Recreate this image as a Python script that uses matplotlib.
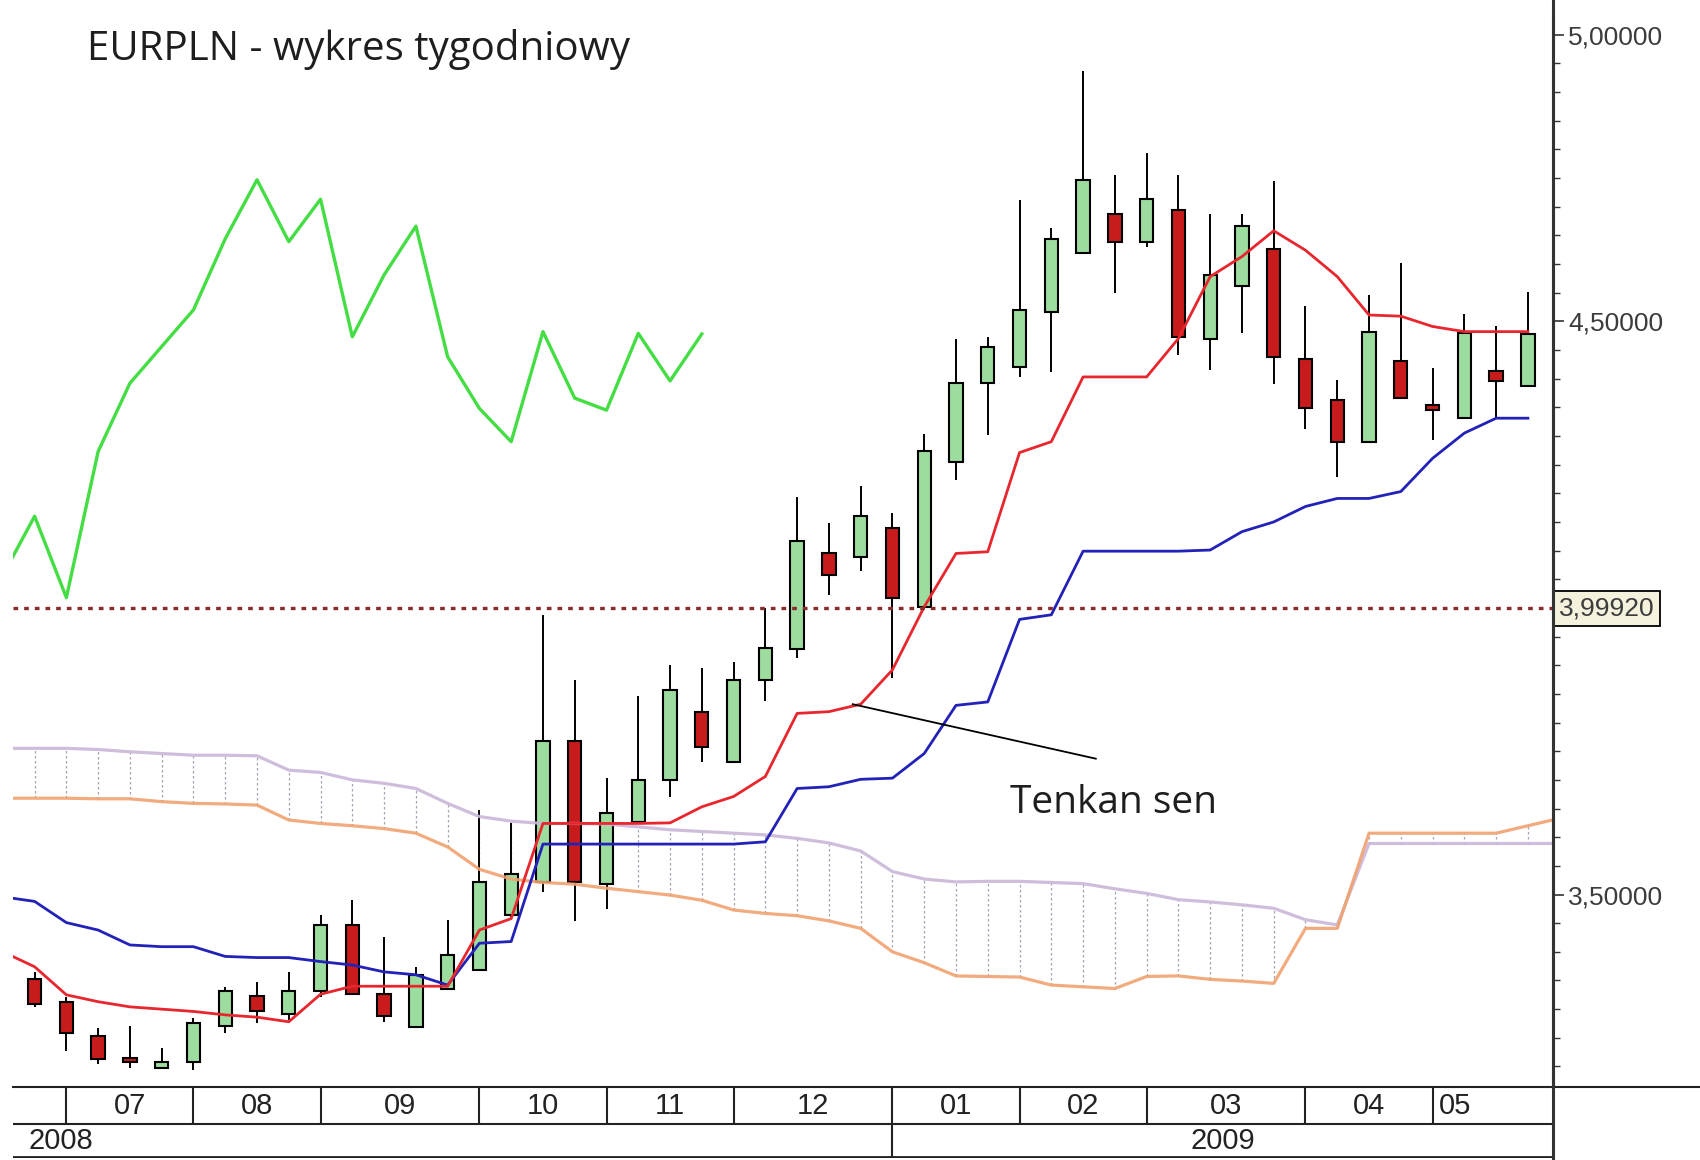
import numpy as np
import matplotlib.pyplot as plt
from matplotlib.ticker import MultipleLocator, FixedLocator
from matplotlib.transforms import blended_transform_factory

# --- Données (EURPLN, bougies hebdomadaires, index de semaine) ---
opens = [3.352, 3.313, 3.254, 3.215, 3.198, 3.207, 3.271, 3.323, 3.292, 3.331,
         3.446, 3.326, 3.269, 3.335, 3.369, 3.464, 3.522, 3.767, 3.518, 3.627,
         3.699, 3.819, 3.732, 3.874, 3.929, 4.096, 4.088, 4.140, 4.002, 4.255,
         4.392, 4.421, 4.516, 4.619, 4.687, 4.639, 4.695, 4.469, 4.562, 4.627,
         4.435, 4.363, 4.290, 4.430, 4.354, 4.331, 4.413, 4.387]
highs = [3.365, 3.322, 3.267, 3.271, 3.233, 3.284, 3.339, 3.348, 3.365, 3.464,
         3.490, 3.426, 3.374, 3.456, 3.647, 3.624, 3.988, 3.875, 3.704, 3.846,
         3.900, 3.896, 3.905, 3.999, 4.193, 4.149, 4.213, 4.166, 4.303, 4.470,
         4.473, 4.711, 4.662, 4.936, 4.756, 4.794, 4.756, 4.688, 4.688, 4.744,
         4.526, 4.398, 4.546, 4.602, 4.418, 4.513, 4.491, 4.552]
lows = [3.304, 3.227, 3.205, 3.198, 3.197, 3.194, 3.258, 3.275, 3.281, 3.322,
        3.325, 3.278, 3.269, 3.333, 3.368, 3.461, 3.505, 3.453, 3.474, 3.624,
        3.671, 3.732, 3.732, 3.838, 3.912, 4.023, 4.065, 3.877, 4.000, 4.224,
        4.302, 4.403, 4.412, 4.619, 4.549, 4.630, 4.441, 4.415, 4.480, 4.391,
        4.313, 4.228, 4.290, 4.366, 4.293, 4.331, 4.331, 4.387]
closes = [3.309, 3.258, 3.213, 3.207, 3.208, 3.275, 3.331, 3.296, 3.331, 3.446,
          3.326, 3.288, 3.360, 3.394, 3.522, 3.536, 3.767, 3.521, 3.643, 3.699,
          3.857, 3.758, 3.874, 3.930, 4.117, 4.057, 4.160, 4.018, 4.273, 4.392,
          4.456, 4.520, 4.644, 4.747, 4.639, 4.713, 4.473, 4.581, 4.666, 4.438,
          4.348, 4.290, 4.482, 4.366, 4.345, 4.479, 4.396, 4.478]

# Tenkan / Kijun : semaines -1 .. 47
tenkan = [3.400, 3.374, 3.325, 3.313, 3.304, 3.300, 3.296, 3.290, 3.286, 3.278,
          3.326, 3.340, 3.340, 3.340, 3.340, 3.438, 3.458, 3.624, 3.624, 3.624,
          3.624, 3.625, 3.653, 3.671, 3.706, 3.816, 3.819, 3.832, 3.892, 4.002,
          4.095, 4.098, 4.271, 4.290, 4.403, 4.403, 4.403, 4.470, 4.578, 4.613,
          4.658, 4.624, 4.578, 4.511, 4.509, 4.491, 4.482, 4.482, 4.482]
kijun = [3.496, 3.488, 3.451, 3.438, 3.412, 3.409, 3.409, 3.392, 3.390, 3.390,
         3.383, 3.377, 3.365, 3.360, 3.342, 3.415, 3.418, 3.588, 3.588, 3.588,
         3.588, 3.588, 3.588, 3.588, 3.592, 3.685, 3.688, 3.701, 3.703, 3.746,
         3.830, 3.836, 3.980, 3.988, 4.099, 4.099, 4.099, 4.099, 4.101, 4.133,
         4.150, 4.177, 4.191, 4.191, 4.203, 4.261, 4.305, 4.331, 4.331]

# Senkou span A / B : semaines -1 .. 48
senkou_b = [3.755, 3.755, 3.755, 3.753, 3.749, 3.746, 3.743, 3.743, 3.742, 3.717,
            3.713, 3.700, 3.694, 3.685, 3.659, 3.636, 3.628, 3.624, 3.624, 3.623,
            3.618, 3.613, 3.610, 3.607, 3.604, 3.598, 3.590, 3.576, 3.540, 3.527,
            3.522, 3.523, 3.523, 3.521, 3.519, 3.510, 3.502, 3.491, 3.487, 3.482,
            3.476, 3.456, 3.447, 3.589, 3.589, 3.589, 3.589, 3.589, 3.589, 3.589]
senkou_a = [3.668, 3.668, 3.668, 3.667, 3.667, 3.662, 3.659, 3.658, 3.656, 3.630,
            3.624, 3.620, 3.615, 3.607, 3.583, 3.544, 3.527, 3.521, 3.518, 3.511,
            3.505, 3.499, 3.490, 3.473, 3.467, 3.463, 3.454, 3.441, 3.400, 3.381,
            3.358, 3.357, 3.356, 3.342, 3.339, 3.336, 3.357, 3.358, 3.352, 3.349,
            3.345, 3.441, 3.441, 3.607, 3.607, 3.607, 3.607, 3.607, 3.620, 3.633]

ref_level = 3.9992
y_ticks = [3.5, 4.0, 4.5, 5.0]
y_labels = ['3,50000', '', '4,50000', '5,00000']

month_names = ['07', '08', '09', '10', '11', '12', '01', '02', '03', '04', '05']
month_bounds = [1, 5, 9, 14, 18, 22, 27, 31, 35, 40, 44]
month_label_x = [3, 7, 11.5, 16, 20, 24.5, 29, 33, 37.5, 42, 44.7]
years = ['2008', '2009']
year_bound = 27

# --- Figure ---
W, H = 1700, 1160
fig = plt.figure(figsize=(W / 100, H / 100), dpi=100)
x0, x1 = 13 / W, 1553 / W
ax = fig.add_axes([x0, 1 - 1087 / H, x1 - x0, (1087 - 13) / H])
ax.set_xlim(-0.68, 47.79)
ax.set_ylim(3.1642, 5.0379)

weeks = np.arange(len(closes))
wk_line = np.arange(-1, len(tenkan) - 1)
wk_cloud = np.arange(-1, len(senkou_a) - 1)
o = np.array(opens); c = np.array(closes)

# nuage (hachures verticales pointillées)
lo = np.minimum(senkou_a, senkou_b)
hi = np.maximum(senkou_a, senkou_b)
ax.vlines(wk_cloud, lo, hi, colors='#a4a4b4', lw=0.9, linestyles=(0, (2, 2)), zorder=1)

# bougies
ax.vlines(weeks, lows, highs, colors='black', lw=1.4, zorder=2)
up = c >= o
cols = np.where(up, '#9ddc9f', '#c81c1c')
ax.bar(weeks, np.abs(c - o), bottom=np.minimum(o, c), width=0.42,
       color=cols, edgecolor='black', linewidth=1.5, zorder=3)

# lignes Ichimoku
ax.plot(wk_cloud, senkou_b, color='#c9b6d8', lw=2.3, alpha=0.9, zorder=4)
ax.plot(wk_cloud, senkou_a, color='#f0a270', lw=2.3, alpha=0.9, zorder=4)
ax.plot(wk_line, kijun, color='#2222b8', lw=2.0, zorder=5)
ax.plot(wk_line, tenkan, color='#e8262e', lw=2.0, zorder=6)
# Chikou span = clôture décalée de 26 semaines
ax.plot(weeks[25:] - 26, closes[25:], color='#44dd44', lw=2.4, zorder=6)

# niveau de référence
ax.axhline(ref_level, color='#8a2b2b', lw=2.4, linestyle=(0, (1.4, 1.8)),
           dash_capstyle='butt', zorder=7)
trans = blended_transform_factory(ax.transAxes, ax.transData)
ax.text(1.0 + 6 / 1540, ref_level, '3,99920', transform=trans, ha='left', va='center',
        fontsize=19, color='#3c3c3c', family=['Liberation Sans', 'DejaVu Sans'],
        bbox=dict(boxstyle='square,pad=0.22', fc='#f4f2dc', ec='black', lw=1.3),
        clip_on=False, zorder=10)

# annotation
ax.plot([25.75, 33.4], [3.832, 3.737], color='black', lw=1.3, zorder=8)
ax.text(30.7, 3.66, 'Tenkan sen', fontsize=28, color='#1e1e1e',
        family=['Open Sans', 'DejaVu Sans'], ha='left', va='center', zorder=8)

# titre
fig.text(87 / W, 1 - 49 / H, 'EURPLN - wykres tygodniowy', fontsize=29, color='#1e1e1e',
         family=['Open Sans', 'DejaVu Sans'], ha='left', va='center')

# axe des prix à droite
for s in ['left', 'top', 'bottom']:
    ax.spines[s].set_visible(False)
ax.spines['right'].set_color('#333333')
ax.spines['right'].set_linewidth(2.2)
ax.yaxis.tick_right()
ax.yaxis.set_major_locator(FixedLocator(y_ticks))
ax.set_yticklabels(y_labels)
ax.yaxis.set_minor_locator(MultipleLocator(0.05))
ax.tick_params(axis='y', which='major', length=8, width=1.2, pad=3,
               labelsize=19, labelcolor='#3c3c3c', color='#333333')
ax.tick_params(axis='y', which='minor', length=5, width=1.0, color='#333333')
for t in ax.get_yticklabels():
    t.set_family(['Liberation Sans', 'DejaVu Sans'])
ax.set_xticks([])

# bandeau des mois / années
axd = fig.add_axes([x0, 1 - 1158 / H, x1 - x0, (1158 - 1087) / H])
axd.set_xlim(ax.get_xlim())
axd.set_ylim(0, 71)
axd.axis('off')
axd.axhline(71, xmin=0, xmax=(W - 13) / 1540, color='#222222', lw=1.5, clip_on=False)
axd.axhline(34, color='#222222', lw=1.5)
axd.axhline(0.8, color='#222222', lw=2.0)
axd.vlines(month_bounds, 34, 71, colors='#222222', lw=1.5)
axd.vlines(year_bound, 0, 34, colors='#222222', lw=1.5)
axd.plot([1, 1], [0, 71], transform=axd.transAxes, color='#333333', lw=2.2, clip_on=False)
font_ax = ['Liberation Sans', 'DejaVu Sans']
for name, xm in zip(month_names, month_label_x):
    axd.text(xm, 52, name, ha='center', va='center', fontsize=21, color='#222222', family=font_ax)
axd.text(-0.2, 17, years[0], ha='left', va='center', fontsize=21, color='#222222', family=font_ax)
axd.text((year_bound + 47.79) / 2, 17, years[1], ha='center', va='center', fontsize=21,
         color='#222222', family=font_ax)

fig.savefig('out.png', dpi=100, facecolor='white')
